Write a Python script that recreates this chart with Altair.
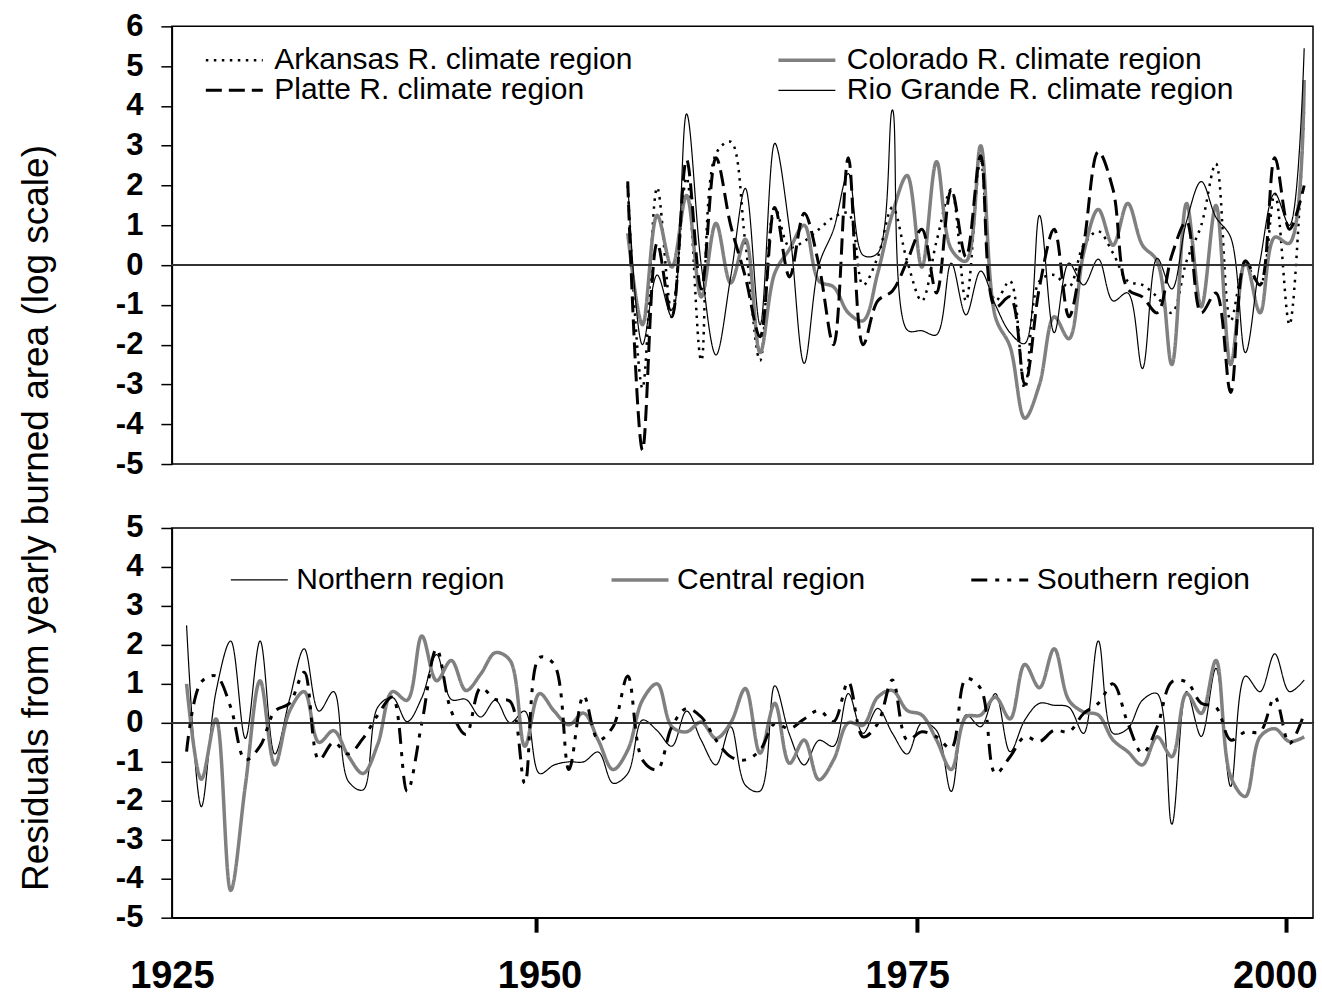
import altair as alt
import pandas as pd

# ---------------- data ----------------
TOP_YEARS = list(range(1956, 2003))
ARKANSAS = [2.0, -3.1, 1.95, -1.2, 2.2, -2.4, 2.8, 3.1, 0.55, -2.4,
            1.45, 0.45, 0.6, 0.9, 1.2, 1.3, -0.5, 0.2, 1.45, 0.1,
            -0.9, 0.6, 1.9, -0.9, 2.6, -0.9, -0.4, -3.1, -0.4, -0.25,
            -0.55, 0.5, 0.85, 0.3, -0.4, -0.5, -0.8, -1.2, 0.1, 1.0,
            2.55, -1.4, 0.0, -0.5, 1.8, -1.5, 4.0]
COLORADO = [0.8, -1.5, 1.25, -0.05, 1.75, -0.8, 1.05, -0.45, 0.65, -2.2,
            -0.2, 0.4, 1.0, -0.4, -0.55, -1.2, -1.4, -0.2, 1.3, 2.25,
            -0.05, 2.6, 0.4, 0.1, 3.0, -1.3, -2.05, -3.85, -3.0, -1.3,
            -1.85, 0.3, 1.4, 0.5, 1.55, 0.5, 0.1, -2.5, 1.55, -1.05,
            1.5, -2.5, 0.1, -1.2, 0.7, 0.55, 4.65]
PLATTE = [2.1, -4.65, 0.55, -1.3, 2.65, -0.6, 2.7, 1.0, -0.3, -1.8,
          1.45, -0.3, 1.3, 0.0, -2.0, 2.7, -2.0, -0.9, -0.65, 0.1,
          0.9, -0.7, 1.9, 0.2, 2.75, -1.05, -0.8, -3.0, -0.55, 0.9,
          -1.3, 0.5, 2.85, 1.9, -0.6, -0.8, -1.2, 0.25, 1.1, -1.2,
          -0.7, -3.2, 0.1, -0.5, 2.7, 0.9, 2.0]
RIO_GRANDE = [2.1, -2.0, -0.25, -1.3, 3.8, 0.0, -2.26, -0.3, 1.93, -1.5,
              3.06, 0.9, -2.47, 0.0, 0.9, 2.3, 0.25, 0.3, 3.9, -1.63,
              -1.65, -1.75, 0.05, -1.25, -0.15, -1.0, -1.7, -1.97, 1.25, -1.7,
              0.05, -0.5, 0.15, -0.9, -0.7, -2.6, 0.17, -0.6, 1.1, 2.1,
              1.2, 0.7, -2.2, 0.1, 1.8, 1.0, 5.45]

BOTTOM_YEARS = list(range(1926, 2003))
NORTHERN = [2.5, -2.15, 0.8, 2.1, -0.4, 2.1, -0.8, 0.6, 1.9, 0.3,
            0.8, -1.5, -1.72, 0.4, 0.65, 0.03, 0.65, 1.75, 0.6, 0.6,
            0.15, 0.58, 0.0, 0.3, -1.3, -1.08, -1.0, -1.0, -0.75, -1.55,
            -1.3, 0.07, -0.2, -0.6, 0.3, -0.45, -1.08, -0.1, -1.6, -1.75,
            0.95, -0.3, -1.08, -0.45, -0.6, 0.75, -0.27, 0.37, -0.27, -0.8,
            0.0, -0.2, -1.76, 0.2, -0.1, 0.75, -0.74, 0.07, 0.5, 0.45,
            0.4, -0.27, 2.1, -0.27, -0.15, 0.58, 0.75, -2.6, 0.8, -0.35,
            1.4, -1.63, 1.2, 0.8, 1.77, 0.8, 1.1]
CENTRAL = [1.0, -1.45, 0.1, -4.3, -1.6, 1.08, -1.08, 0.3, 0.8, -0.5,
           -0.2, -0.85, -1.3, -0.55, 0.8, 0.58, 2.23, 1.08, 1.6, 0.83,
           1.25, 1.8, 1.6, -0.6, 0.75, 0.3, -0.05, 0.25, -0.45, -1.2,
           -0.7, 0.58, 1.0, -0.1, -0.23, 0.02, -0.4, 0.0, 0.88, -0.78,
           0.5, -1.04, -0.44, -1.46, -0.95, 0.0, -0.06, 0.66, 0.83, 0.32,
           0.2, -0.44, -1.2, 0.15, 0.2, 0.66, 0.1, 1.5, 0.9, 1.9,
           0.58, 0.28, 0.2, -0.44, -0.74, -1.08, -0.36, -0.87, 0.75, 0.24,
           1.6, -1.38, -1.89, -0.36, -0.15, -0.48, -0.36]
SOUTHERN = [-0.74, 1.05, 1.2, 0.4, -0.95, -0.6, 0.3, 0.5, 1.3, -0.95,
            -0.5, -0.8, -0.4, 0.2, 0.66, -1.76, 0.0, 1.9, 0.3, -0.3,
            0.9, 0.6, 0.55, -1.55, 1.68, 1.5, -1.2, 0.7, -0.44, -0.1,
            1.2, -0.95, -1.2, -0.1, 0.37, 0.15, -0.44, -0.87, -0.95, -0.7,
            -0.02, -0.15, 0.1, 0.32, 0.03, 1.05, -0.36, -0.02, 1.1, -0.44,
            -0.23, -0.36, -0.65, 1.13, 0.88, -1.3, -0.87, -0.36, -0.48, -0.19,
            -0.23, 0.24, 0.5, 1.0, 0.0, -0.78, -0.1, 1.05, 1.05, 0.5,
            0.4, -0.44, -0.23, -0.23, 0.66, -0.53, 0.24]

# legend order (laid out column by column in two rows)
TOP_NAMES = ["Arkansas R. climate region", "Platte R. climate region",
             "Colorado R. climate region", "Rio Grande R. climate region"]
TOP_SERIES = {"Arkansas R. climate region": ARKANSAS,
              "Colorado R. climate region": COLORADO,
              "Platte R. climate region": PLATTE,
              "Rio Grande R. climate region": RIO_GRANDE}
BOTTOM_NAMES = ["Northern region", "Central region", "Southern region"]
BOTTOM_SERIES = {"Northern region": NORTHERN, "Central region": CENTRAL,
                 "Southern region": SOUTHERN}

X_LABELS = [1925, 1950, 1975, 2000]
TICK_YEARS = [1949.8, 1975.7, 2000.8]
TOP_Y_TICKS = list(range(-5, 7))
BOTTOM_Y_TICKS = list(range(-5, 6))

FONT = "Liberation Sans"
W = 1142


def long_table(years, series):
    rows = []
    for name, vals in series.items():
        assert len(vals) == len(years), name
        for yr, v in zip(years, vals):
            rows.append({"year": yr, "value": v, "series": name})
    return pd.DataFrame(rows)


top_df = long_table(TOP_YEARS, TOP_SERIES)
bot_df = long_table(BOTTOM_YEARS, BOTTOM_SERIES)
tick_df = pd.DataFrame({"tick": TICK_YEARS})

x_scale = alt.Scale(domain=[1925.0, 2002.6], nice=False, zero=False)


def y_axis(values):
    return alt.Axis(values=values, title=None, grid=False,
                    labelExpr="'' + datum.value",
                    labelFont=FONT, labelFontSize=31, labelFontWeight="bold",
                    labelColor="black", labelPadding=18, tickSize=11,
                    tickColor="black", tickWidth=1.5, domainColor="black",
                    domainWidth=1.5, labelFlush=False, labelOverlap=False,
                    labelBound=False)


x_axis_bottom = alt.Axis(values=X_LABELS, title=None, grid=False,
                         labelExpr="'' + datum.value",
                         labelFont=FONT, labelFontSize=38, labelFontWeight="bold",
                         labelColor="black", labelPadding=40, ticks=False,
                         tickSize=0, labelFlush=False, labelOverlap=False,
                         labelBound=False, domainColor="black", domainWidth=1.5)


def make_layers(df, names, colors, dashes, widths, ydom, yticks, legend, x_axis):
    ysc = alt.Scale(domain=ydom, nice=False, zero=False)
    lines = alt.Chart(df).mark_line(interpolate="catmull-rom", strokeCap="butt",
                                    strokeJoin="round").encode(
        x=alt.X("year:Q", scale=x_scale, axis=x_axis),
        y=alt.Y("value:Q", scale=ysc, axis=y_axis(yticks)),
        color=alt.Color("series:N", scale=alt.Scale(domain=names, range=colors),
                        legend=legend),
        strokeDash=alt.StrokeDash("series:N", scale=alt.Scale(domain=names, range=dashes),
                                  legend=legend),
        strokeWidth=alt.StrokeWidth("series:N",
                                    scale=alt.Scale(type="ordinal", domain=names, range=widths),
                                    legend=legend),
    )
    zero = alt.Chart(df).mark_rule(color="#333333", strokeWidth=1.5).encode(
        y=alt.YDatum(0, scale=ysc, axis=y_axis(yticks)))
    return [lines, zero]


# a horizontal stroke 4*sqrt(size) long, so that a long sample keeps a small row height
SYMBOL = "M-4,0H4"

top_legend = alt.Legend(orient="none", legendX=28, legendY=19, columns=2,
                        columnPadding=139, rowPadding=0, symbolType=SYMBOL,
                        symbolSize=203, symbolOffset=19.5, labelFont=FONT,
                        labelFontSize=30, labelColor="black", labelLimit=1000,
                        labelOffset=25, padding=0, title=None)
bottom_legend = alt.Legend(orient="none", legendX=53, legendY=37, columns=3,
                           columnPadding=100, rowPadding=0, symbolType=SYMBOL,
                           symbolSize=203, symbolOffset=19.5, labelFont=FONT,
                           labelFontSize=30, labelColor="black", labelLimit=1000,
                           labelOffset=22, padding=0, title=None)

top_layers = make_layers(top_df, TOP_NAMES,
                         ["black", "black", "#808080", "black"],
                         [[2.5, 5.5], [16, 7], [1, 0], [1, 0]],
                         [2.5, 3, 3.5, 1.2],
                         [-5, 6], TOP_Y_TICKS, top_legend, None)
top = alt.layer(*top_layers).properties(width=W, height=438)

bot_layers = make_layers(bot_df, BOTTOM_NAMES,
                         ["black", "#808080", "black"],
                         [[1, 0], [1, 0], [16, 8, 4, 8, 4, 8]],
                         [1.2, 3.5, 3],
                         [-5, 5], BOTTOM_Y_TICKS, bottom_legend, x_axis_bottom)

ticks = alt.Chart(tick_df).mark_rule(color="black", strokeWidth=4).encode(
    x=alt.X("tick:Q", scale=x_scale, axis=x_axis_bottom),
    y=alt.value(390), y2=alt.value(405))

bottom = alt.layer(*bot_layers, ticks).properties(width=W, height=390)

chart = alt.vconcat(top, bottom, spacing=31).resolve_scale(
    color="independent", strokeDash="independent", strokeWidth="independent",
    y="independent"
).resolve_legend(
    color="independent", strokeDash="independent", strokeWidth="independent"
).properties(
    title=alt.TitleParams(text="Residuals from yearly burned area (log scale)",
                          orient="left", anchor="middle", font=FONT, fontSize=37,
                          fontWeight="normal", color="black", offset=59, dx=-15),
    padding={"left": 17, "top": 9, "right": 4, "bottom": 2},
).configure(font=FONT).configure_view(stroke="black", strokeWidth=1.5)

chart.save("out.html", embed_options={"renderer": "svg", "actions": False})
